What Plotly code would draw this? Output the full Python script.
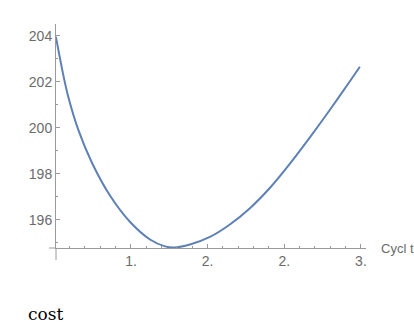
import plotly.graph_objects as go

# Data
cycle_time = [1.01, 1.058, 1.09, 1.156, 1.244, 1.363, 1.493, 1.624, 1.722, 1.784,
              1.885, 2.015, 2.145, 2.276, 2.407, 2.537, 2.667, 2.798, 2.928, 2.993]
cost = [203.96, 202.31, 201.37, 199.92, 198.50, 197.05, 195.91, 195.14, 194.84, 194.79,
        194.92, 195.25, 195.79, 196.50, 197.39, 198.44, 199.58, 200.78, 202.02, 202.65]

x_tickvals = [1.5, 2.0, 2.5, 3.0]
x_ticktext = ["1.", "2.", "2.", "3."]
y_tickvals = [196, 198, 200, 202, 204]
y_ticktext = ["196", "198", "200", "202", "204"]

AXIS = "#9a9a9a"
LABEL = "#6b6b6b"

fig = go.Figure()
fig.add_trace(go.Scatter(
    x=cycle_time, y=cost, mode="lines",
    line=dict(color="#5E81B5", width=2, shape="spline", smoothing=0.8),
    hoverinfo="skip", showlegend=False,
))

fig.update_layout(
    width=414, height=333,
    margin=dict(l=56, r=48, t=24, b=85),
    paper_bgcolor="white", plot_bgcolor="white",
    font=dict(family="Liberation Sans, Arial, sans-serif", size=14, color=LABEL),
    xaxis=dict(
        range=[1.011, 3.033], showgrid=False, zeroline=False,
        showline=True, linecolor=AXIS, linewidth=1,
        tickmode="array", tickvals=x_tickvals, ticktext=x_ticktext,
        ticks="inside", ticklen=4, tickcolor=AXIS, tickwidth=1,
        minor=dict(tickmode="linear", tick0=1.0, dtick=0.1, ticks="inside",
                   ticklen=2, tickcolor=AXIS, tickwidth=1, showgrid=False),
        tickfont=dict(size=14, color=LABEL),
    ),
    yaxis=dict(
        range=[194.77, 204.51], showgrid=False, zeroline=False,
        showline=True, linecolor=AXIS, linewidth=1,
        tickmode="array", tickvals=y_tickvals, ticktext=y_ticktext,
        ticks="inside", ticklen=4, tickcolor=AXIS, tickwidth=1,
        minor=dict(tickmode="linear", tick0=194, dtick=1, ticks="inside",
                   ticklen=2, tickcolor=AXIS, tickwidth=1, showgrid=False),
        tickfont=dict(size=14, color=LABEL),
    ),
    shapes=[
        dict(type="line", xref="paper", yref="paper", x0=-0.0226, x1=0, y0=0, y1=0,
             line=dict(color=AXIS, width=1)),
        dict(type="line", xref="paper", yref="paper", x0=0, x1=0, y0=-0.054, y1=0,
             line=dict(color=AXIS, width=1)),
    ],
    annotations=[
        dict(text="Cycl t", xref="paper", yref="paper", x=1.042, y=0,
             xanchor="left", yanchor="middle", showarrow=False,
             font=dict(size=13, color=LABEL)),
        dict(text="cost", xref="paper", yref="paper", x=-0.097, y=-0.295,
             xanchor="left", yanchor="middle", showarrow=False,
             font=dict(family="DejaVu Serif, Liberation Serif, Times New Roman, serif",
                       size=17, color="black")),
    ],
)

fig.write_html("out.html")
